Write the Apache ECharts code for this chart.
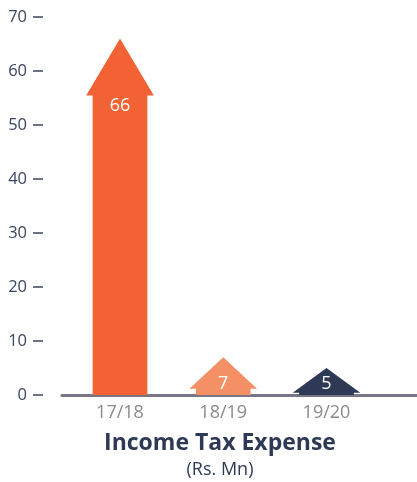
<!DOCTYPE html>
<html>
<head>
<meta charset="utf-8">
<title>Income Tax Expense</title>
<script src="https://cdn.jsdelivr.net/npm/echarts@6/dist/echarts.min.js"></script>
<style>
  html, body { margin: 0; padding: 0; background: #ffffff; }
  #chart { width: 417px; height: 482px; }
</style>
</head>
<body>
<div id="chart"></div>
<script>
// Income tax expense per financial year (Rs. Mn)
const categories = ['17/18', '18/19', '19/20'];
const values = [66, 7, 5];
const colors = ['#F26235', '#F58F66', '#2E3A55'];
const yTickStep = 10;
const yMax = 70;

const FONT = '"Open Sans", "Noto Sans", sans-serif';
const NAVY = '#2E3A55';

const chart = echarts.init(document.getElementById('chart'), null, { renderer: 'canvas' });

// Arrow-shaped bar: a shaft rising from zero topped by a triangular head whose tip sits at the value
function renderArrow(params, api) {
  const idx = api.value(0);
  const val = api.value(1);
  const tip = api.coord([idx, val]);
  const base = api.coord([idx, 0]);
  const unit = api.size([1, 0])[0];
  const shaftW = unit * 0.53;
  const headW = unit * 0.655;
  const h = base[1] - tip[1];
  const headH = Math.min(57, 8 + 0.62 * h);
  const cx = tip[0];
  const neck = tip[1] + headH;
  const pts = [
    [cx - shaftW / 2, base[1]],
    [cx - shaftW / 2, neck],
    [cx - headW / 2, neck],
    [cx, tip[1]],
    [cx + headW / 2, neck],
    [cx + shaftW / 2, neck],
    [cx + shaftW / 2, base[1]]
  ];
  const labelY = Math.min(neck + 10, base[1] - 11);
  return {
    type: 'group',
    children: [
      {
        type: 'polygon',
        shape: { points: pts },
        style: { fill: colors[idx] }
      },
      {
        type: 'text',
        x: cx,
        y: labelY,
        style: {
          text: String(val),
          fill: '#ffffff',
          font: '18px ' + FONT,
          align: 'center',
          verticalAlign: 'middle'
        }
      }
    ]
  };
}

const option = {
  animation: false,
  backgroundColor: '#ffffff',
  grid: { left: 62, right: 0, top: 17, bottom: 87 },
  xAxis: {
    type: 'value',
    min: -0.5617,
    max: 2.8765,
    splitLine: { show: false },
    axisTick: { show: false },
    axisLine: { show: true, onZero: false, lineStyle: { color: '#787686', width: 3 } },
    axisLabel: {
      customValues: categories.map((c, i) => i),
      formatter: v => categories[v] || '',
      color: '#8a8a8a',
      fontFamily: FONT,
      fontSize: 18,
      margin: 9
    }
  },
  yAxis: {
    type: 'value',
    min: 0,
    max: yMax,
    interval: yTickStep,
    offset: 19,
    splitLine: { show: false },
    axisLine: { show: false, onZero: false },
    axisTick: {
      show: true,
      length: 10,
      lineStyle: { color: '#3B4460', width: 1.5 }
    },
    axisLabel: {
      color: '#3B4460',
      fontFamily: FONT,
      fontSize: 16.5,
      margin: 16
    }
  },
  series: [{
    type: 'custom',
    renderItem: renderArrow,
    data: values.map((v, i) => [i, v]),
    z: 1
  }],
  graphic: [
    {
      type: 'text',
      x: 220,
      y: 443,
      style: {
        text: 'Income Tax Expense',
        fill: NAVY,
        font: 'bold 23px ' + FONT,
        align: 'center',
        verticalAlign: 'middle'
      }
    },
    {
      type: 'text',
      x: 220,
      y: 470,
      style: {
        text: '(Rs. Mn)',
        fill: NAVY,
        font: '18px ' + FONT,
        align: 'center',
        verticalAlign: 'middle'
      }
    }
  ]
};

chart.setOption(option);
</script>
</body>
</html>
